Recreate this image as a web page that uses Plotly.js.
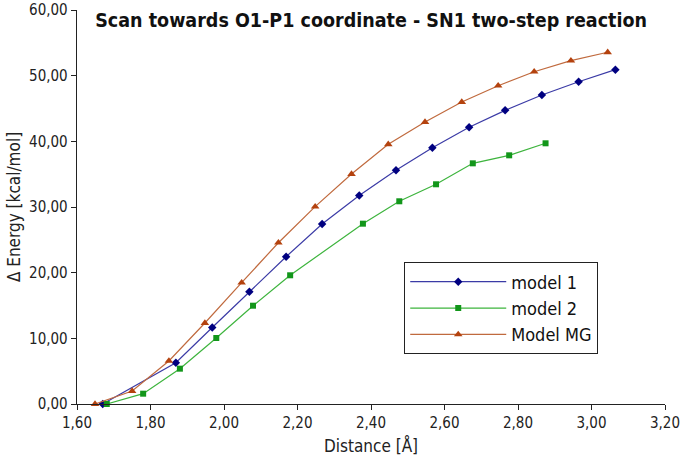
<!DOCTYPE html>
<html>
<head>
<meta charset="utf-8">
<script src="https://cdn.plot.ly/plotly-3.0.1.min.js"></script>
<style>html,body{margin:0;padding:0;background:#fff}#chart{width:681px;height:467px}</style>
</head>
<body>
<div id="chart"></div>
<script>
const seriesNames = ["model 1", "model 2", "Model MG"];
const model1X = [1.670, 1.869, 1.968, 2.069, 2.169, 2.267, 2.368, 2.468, 2.567, 2.667, 2.765, 2.865, 2.965, 3.065];
const model1Y = [0.00, 6.29, 11.65, 17.10, 22.43, 27.41, 31.75, 35.59, 39.03, 42.14, 44.72, 47.05, 49.08, 50.91];
const model2X = [1.681, 1.780, 1.880, 1.979, 2.079, 2.180, 2.378, 2.477, 2.577, 2.677, 2.776, 2.875];
const model2Y = [0.00, 1.57, 5.38, 10.05, 14.97, 19.60, 27.46, 30.87, 33.46, 36.65, 37.87, 39.70];
const modelMGX = [1.649, 1.750, 1.850, 1.948, 2.048, 2.148, 2.248, 2.347, 2.447, 2.547, 2.647, 2.746, 2.844, 2.944, 3.044];
const modelMGY = [0.00, 1.98, 6.55, 12.33, 18.47, 24.56, 30.05, 35.02, 39.55, 42.94, 45.99, 48.47, 50.60, 52.28, 53.56];
const xTicks = [1.6, 1.8, 2.0, 2.2, 2.4, 2.6, 2.8, 3.0, 3.2];
const yTicks = [0, 10, 20, 30, 40, 50, 60];

const FONT = "DejaVu Sans Condensed, Liberation Sans Narrow, sans-serif";

const traces = [
  {x: model1X, y: model1Y, name: seriesNames[0], mode: "lines+markers", cliponaxis: false,
   line: {color: "#3b3ba6", width: 1.2}, marker: {symbol: "diamond", size: 6.5, color: "#000080"}},
  {x: model2X, y: model2Y, name: seriesNames[1], mode: "lines+markers", cliponaxis: false,
   line: {color: "#3db43d", width: 1.2}, marker: {symbol: "square", size: 6, color: "#12961a"}},
  {x: modelMGX, y: modelMGY, name: seriesNames[2], mode: "lines+markers", cliponaxis: false,
   line: {color: "#c06a3e", width: 1.2}, marker: {symbol: "triangle-up", size: 7.5, color: "#b4420e"}}
];

const layout = {
  width: 681, height: 467,
  margin: {l: 77, r: 16, t: 10, b: 63},
  paper_bgcolor: "#fff", plot_bgcolor: "#fff",
  separators: ",.",
  font: {family: FONT, color: "#222", size: 15},
  showlegend: true,
  title: {text: "<b>Scan towards O1-P1 coordinate - SN1 two-step reaction</b>",
          font: {family: FONT, size: 19.5, color: "#111"},
          x: 0.545, xanchor: "center", y: 0.957, yanchor: "middle", xref: "container", yref: "container"},
  xaxis: {range: [1.6, 3.2], tickvals: xTicks, tickformat: ".2f", showgrid: false, zeroline: false,
          showline: true, linecolor: "#222", linewidth: 1.3, ticks: "outside", ticklen: 5, tickcolor: "#222",
          tickfont: {size: 15, family: FONT, color: "#222"},
          title: {text: "Distance [Å]", font: {size: 17, family: FONT, color: "#222"}, standoff: 8}},
  yaxis: {range: [0, 60], tickvals: yTicks, tickformat: ".2f", showgrid: false, zeroline: false,
          showline: true, linecolor: "#222", linewidth: 1.3, ticks: "outside", ticklen: 5, tickcolor: "#222",
          tickfont: {size: 15, family: FONT, color: "#222"},
          title: {text: "Δ Energy [kcal/mol]", font: {size: 17, family: FONT, color: "#222"}, standoff: 4}},
  legend: {x: 0.556, y: 0.36, xanchor: "left", yanchor: "top", bgcolor: "#fff",
           bordercolor: "#222", borderwidth: 1.3, itemwidth: 96,
           font: {size: 18, family: FONT, color: "#111"}, tracegroupgap: 0}
};

Plotly.newPlot("chart", traces, layout, {displayModeBar: false, staticPlot: true});
</script>
</body>
</html>
